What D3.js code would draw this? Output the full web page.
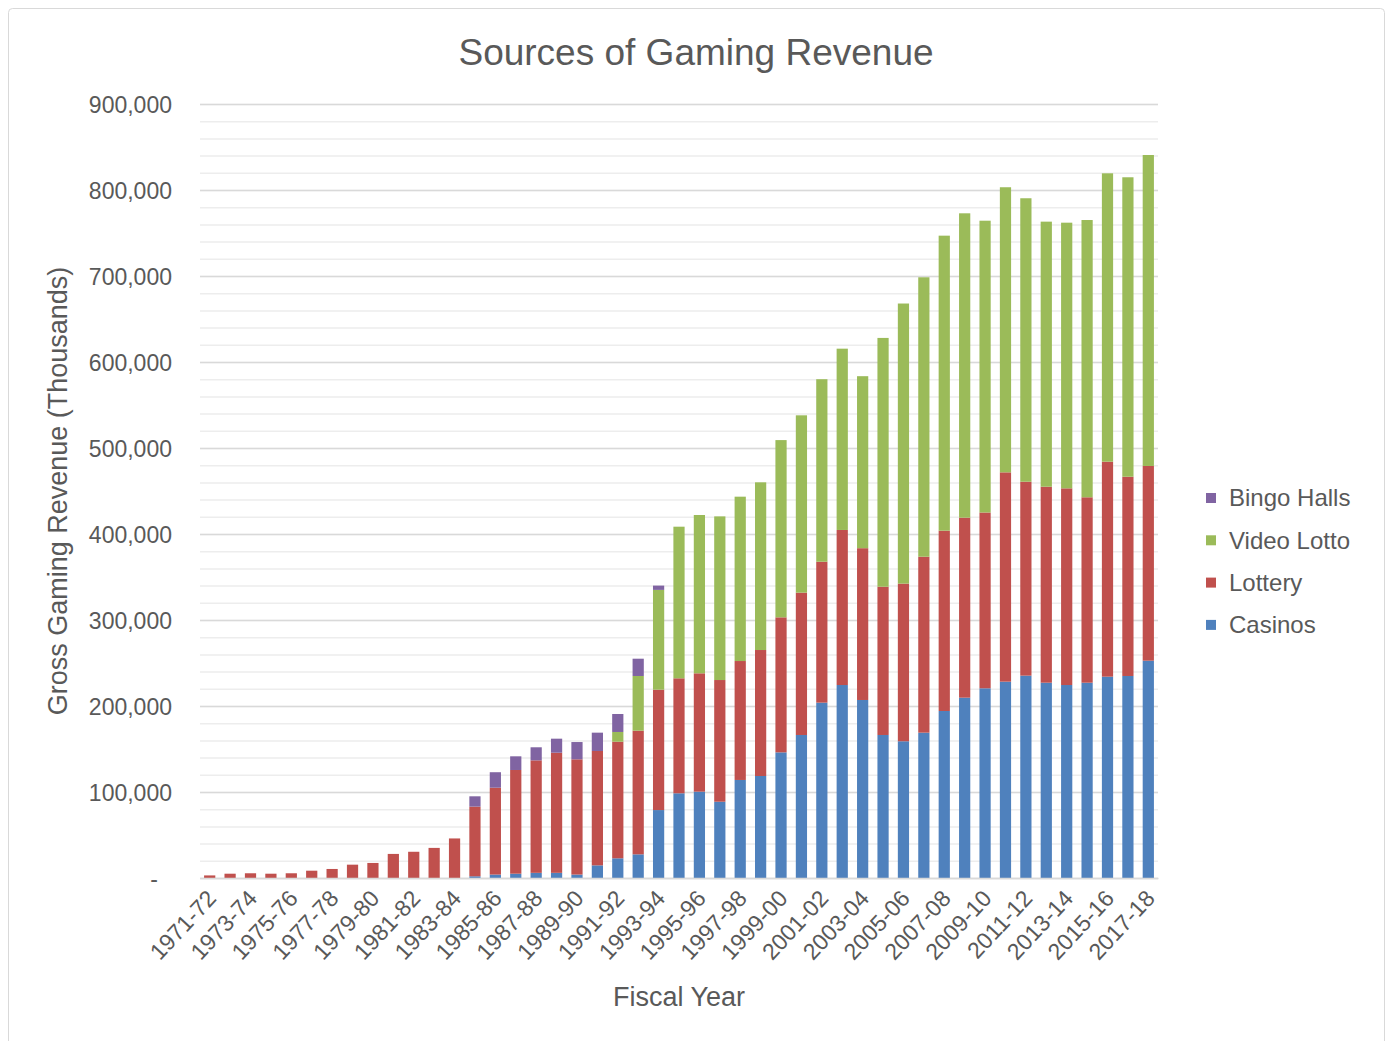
<!DOCTYPE html>
<html>
<head>
<meta charset="utf-8">
<script src="https://cdn.jsdelivr.net/npm/d3@7"></script>
<style>
	body {margin: 0; background: #ffffff;}
	#svg {width: 1389px; height: 1041px; display: block;}
	text {font-family: "Liberation Sans", Arial, sans-serif; fill: #595959;}
</style>
</head>
<body>
<svg id="svg"></svg>
<script>
let years = ["1971-72","1972-73","1973-74","1974-75","1975-76","1976-77","1977-78","1978-79","1979-80","1980-81",
	"1981-82","1982-83","1983-84","1984-85","1985-86","1986-87","1987-88","1988-89","1989-90","1990-91",
	"1991-92","1992-93","1993-94","1994-95","1995-96","1996-97","1997-98","1998-99","1999-00","2000-01",
	"2001-02","2002-03","2003-04","2004-05","2005-06","2006-07","2007-08","2008-09","2009-10","2010-11",
	"2011-12","2012-13","2013-14","2014-15","2015-16","2016-17","2017-18"];

// gross revenue in thousands
let casinos = [0,0,0,0,0,0,0,0,0,0,
	0,0,0,2000,4000,5000,6000,6000,4000,14700,
	22900,27500,79000,98500,100400,88700,114000,118600,146100,166300,
	203900,224400,207000,166300,159000,169000,194200,209700,220600,228300,
	235300,227100,224400,227100,234100,234900,252700];
let lottery = [3000,5000,5500,5000,5500,8500,10500,15500,17500,28000,
	30500,35000,46000,81000,101000,120600,130800,139700,134000,133000,
	135600,143800,140000,133700,137600,141500,138300,146500,157000,165500,
	163900,180300,176500,172400,183300,204600,209700,209300,204400,243400,
	225500,227900,228700,215600,250000,231700,226400];
let videoLotto = [0,0,0,0,0,0,0,0,0,0,
	0,0,0,0,0,0,0,0,0,0,
	11300,63600,116000,176300,184100,190300,191100,195000,206100,206200,
	212200,210800,200000,289300,325700,324900,343000,353900,339300,331500,
	329600,308200,308900,322400,335300,348200,361600];
let bingoHalls = [0,0,0,0,0,0,0,0,0,0,
	0,0,0,12000,18000,15900,15200,16300,20100,21300,
	20900,20100,5000,0,0,0,0,0,0,0,
	0,0,0,0,0,0,0,0,0,0,
	0,0,0,0,0,0,0];

let seriesNames = ["Casinos", "Lottery", "Video Lotto", "Bingo Halls"];
let seriesColors = ["#4f81bd", "#c0504d", "#9bbb59", "#8064a2"];
let yTickValues = [0,100000,200000,300000,400000,500000,600000,700000,800000,900000];

let table = years.map(function(y, i) {
	return {year: y, "Casinos": casinos[i], "Lottery": lottery[i], "Video Lotto": videoLotto[i], "Bingo Halls": bingoHalls[i]};
});

let svg = d3.select("#svg");
let padding = {top: 104, right: 231, bottom: 163, left: 200};
let width = 1389, height = 1041;
let chartArea = {
	"width": width - padding.left - padding.right,
	"height": height - padding.top - padding.bottom
};

// outer frame
svg.append("rect")
	.attr("x", 8.5).attr("y", 8.5)
	.attr("width", 1376).attr("height", 1045)
	.attr("rx", 4)
	.attr("fill", "none")
	.attr("stroke", "#d9d9d9");

let yScale = d3.scaleLinear()
	.domain([0, 900000])
	.range([chartArea.height, 0]);

let xScale = d3.scaleBand()
	.domain(years)
	.range([0, chartArea.width])
	.paddingInner(0.45)
	.paddingOuter(0.2);

let plot = svg.append("g")
	.attr("transform", "translate(" + padding.left + "," + padding.top + ")");

// minor gridlines every 20,000
plot.append("g")
	.attr("class", "minorGrid")
	.call(d3.axisLeft(yScale).ticks(45).tickSize(-chartArea.width).tickFormat(""))
	.call(g => g.select(".domain").remove())
	.call(g => g.selectAll("line").attr("stroke", "#ededed").attr("stroke-width", 1.5));

// major gridlines
plot.append("g")
	.attr("class", "grid")
	.call(d3.axisLeft(yScale).tickValues(yTickValues).tickSize(-chartArea.width).tickFormat(""))
	.call(g => g.select(".domain").remove())
	.call(g => g.selectAll("line").attr("stroke", "#d9d9d9").attr("stroke-width", 1.5));

let stack = d3.stack().keys(seriesNames);
let stacked = stack(table);

plot.selectAll("g.layer").data(stacked).enter()
	.append("g")
	.attr("class", "layer")
	.attr("fill", function(d, i) { return seriesColors[i]; })
	.selectAll("rect").data(function(d) { return d; }).enter()
	.append("rect")
	.attr("x", function(d) { return xScale(d.data.year); })
	.attr("y", function(d) { return yScale(d[1]); })
	.attr("width", xScale.bandwidth())
	.attr("height", function(d) { return yScale(d[0]) - yScale(d[1]); });

// y axis labels
let yAxis = plot.append("g")
	.attr("class", "yAxis")
	.call(d3.axisLeft(yScale).tickValues(yTickValues).tickSize(0).tickPadding(28)
		.tickFormat(function(d) { return d === 0 ? "-" : d3.format(",")(d); }));
yAxis.select(".domain").remove();
yAxis.selectAll("text")
	.style("font-size", "23px")
	.attr("fill", "#595959")
	.attr("dy", "0.35em")
	.attr("x", function(d) { return d === 0 ? -42 : -28; });

// x axis
let xAxis = plot.append("g")
	.attr("class", "xAxis")
	.attr("transform", "translate(0," + chartArea.height + ")")
	.call(d3.axisBottom(xScale)
		.tickValues(years.filter(function(d, i) { return i % 2 === 0; }))
		.tickSize(0));
xAxis.select(".domain").attr("stroke", "#d9d9d9").attr("stroke-width", 1.5);
xAxis.selectAll("text")
	.style("font-size", "23px")
	.attr("fill", "#595959")
	.attr("text-anchor", "end")
	.attr("y", 0)
	.attr("dy", "0.35em")
	.attr("transform", "translate(2,16) rotate(-47)");

// title
svg.append("text")
	.attr("x", 696)
	.attr("y", 65)
	.attr("text-anchor", "middle")
	.style("font-size", "37px")
	.text("Sources of Gaming Revenue");

// axis titles
svg.append("text")
	.attr("transform", "translate(67,491) rotate(-90)")
	.attr("text-anchor", "middle")
	.style("font-size", "27px")
	.text("Gross Gaming Revenue (Thousands)");

svg.append("text")
	.attr("x", 679)
	.attr("y", 1006)
	.attr("text-anchor", "middle")
	.style("font-size", "27px")
	.text("Fiscal Year");

// legend, top entry is the top of the stack
let legendItems = seriesNames.slice().reverse();
let legendColors = seriesColors.slice().reverse();
let legend = svg.append("g")
	.attr("transform", "translate(1206,498)");
let legendRow = legend.selectAll("g").data(legendItems).enter()
	.append("g")
	.attr("transform", function(d, i) { return "translate(0," + (i * 42.3) + ")"; });
legendRow.append("rect")
	.attr("x", 0).attr("y", -5)
	.attr("width", 10).attr("height", 10)
	.attr("fill", function(d, i) { return legendColors[i]; });
legendRow.append("text")
	.attr("x", 23)
	.attr("dy", "0.35em")
	.style("font-size", "24px")
	.text(function(d) { return d; });
</script>
</body>
</html>
